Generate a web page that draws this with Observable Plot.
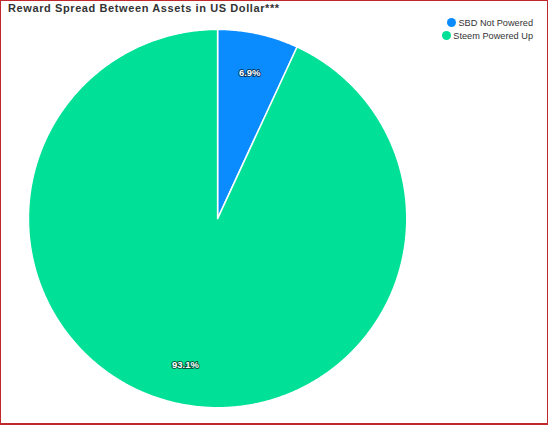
<!DOCTYPE html>
<html>
<head>
<meta charset="utf-8">
<script src="https://cdn.jsdelivr.net/npm/d3@7"></script>
<script src="https://cdn.jsdelivr.net/npm/@observablehq/plot@0.6"></script>
<style>
  html, body { margin: 0; padding: 0; background: #fff; }
  #frame { position: relative; width: 548px; height: 425px; box-sizing: border-box;
           border: 1px solid #c0282d; border-bottom-width: 2px; overflow: hidden; background: #fff; }
  #chart { position: absolute; left: -1px; top: -1px; }
  #title { position: absolute; left: 7px; top: 1px; font: bold 11px "Liberation Sans", Arial, sans-serif; letter-spacing: 0.6px; color: #333; white-space: nowrap; }
  #legend { position: absolute; right: 14px; top: 15px; font: 9.2px "Liberation Sans", Arial, sans-serif; color: #333; display: flex; flex-direction: column; align-items: flex-end; }
  .item { display: flex; align-items: center; height: 13px; white-space: nowrap; }
  .sw { width: 9px; height: 9px; border-radius: 50%; margin-right: 2px; }
</style>
</head>
<body>
<div id="frame">
  <div id="chart"></div>
  <div id="title"></div>
  <div id="legend"></div>
</div>
<script>
const title = "Reward Spread Between Assets in US Dollar***";
const categories = ["SBD Not Powered", "Steem Powered Up"];
const values = [6.9, 93.1];
const labels = ["6.9%", "93.1%"];
const colors = ["#0a8cff", "#00e096"];

document.getElementById("title").textContent = title;
const legend = document.getElementById("legend");
categories.forEach((c, i) => {
  const d = document.createElement("div");
  d.className = "item";
  d.innerHTML = `<span class="sw" style="background:${colors[i]}"></span><span>${c}</span>`;
  legend.appendChild(d);
});

// Build slice polygons from the data (angles clockwise from 12 o'clock)
const total = d3.sum(values);
const slices = [];
const labelPts = [];
let acc = 0;
values.forEach((v, i) => {
  const a0 = acc / total * 2 * Math.PI;
  acc += v;
  const a1 = acc / total * 2 * Math.PI;
  const n = Math.max(2, Math.ceil((a1 - a0) / (Math.PI / 360)));
  slices.push({cat: categories[i], x: 0, y: 0});
  for (let k = 0; k <= n; k++) {
    const a = a0 + (a1 - a0) * k / n;
    slices.push({cat: categories[i], x: Math.sin(a), y: Math.cos(a)});
  }
  slices.push({cat: categories[i], x: 0, y: 0});
  const am = (a0 + a1) / 2;
  labelPts.push({cat: categories[i], label: labels[i], x: 0.79 * Math.sin(am), y: 0.79 * Math.cos(am)});
});

const chart = Plot.plot({
  width: 548,
  height: 426,
  margin: 0,
  x: {domain: [-1, 1], range: [28, 407], axis: null},
  y: {domain: [-1, 1], range: [408, 29], axis: null},
  color: {domain: categories, range: colors},
  style: {background: "transparent"},
  marks: [
    Plot.line(slices, {x: "x", y: "y", z: "cat", fill: "cat", stroke: "#fff", strokeWidth: 1.5, strokeLinejoin: "round", curve: "linear"}),
    Plot.text(labelPts, {x: "x", y: "y", text: "label", fill: "#fff", stroke: "rgba(0,0,0,0.6)", strokeWidth: 2, fontSize: 9.5, fontWeight: "bold", fontFamily: "Liberation Sans, Arial, sans-serif"})
  ]
});
document.getElementById("chart").appendChild(chart);
</script>
</body>
</html>
